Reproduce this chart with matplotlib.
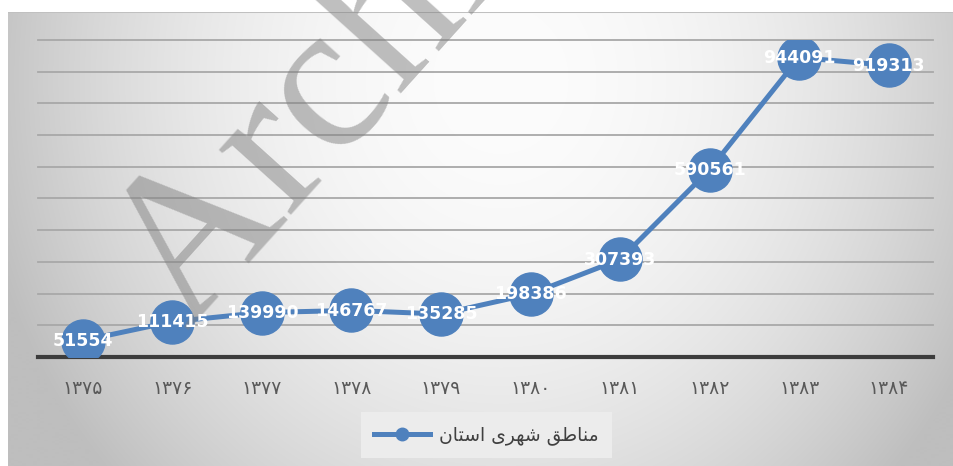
import numpy as np
import matplotlib

matplotlib.use("Agg")
import matplotlib.pyplot as plt
from matplotlib.lines import Line2D

# data
years = ["۱۳۷۵", "۱۳۷۶", "۱۳۷۷", "۱۳۷۸", "۱۳۷۹", "۱۳۸۰", "۱۳۸۱", "۱۳۸۲", "۱۳۸۳", "۱۳۸۴"]
values = [51554, 111415, 139990, 146767, 135285, 198386, 307393, 590561, 944091, 919313]
series_name = "مناطق شهری استان"
watermark = "Archive"

BLUE = "#4f81bd"
W, H = 953, 466

# isolated, final, initial, medial presentation forms
FORMS = {
    "ا": ("\ufe8d", "\ufe8e", None, None),
    "ت": ("\ufe95", "\ufe96", "\ufe97", "\ufe98"),
    "ر": ("\ufead", "\ufeae", None, None),
    "س": ("\ufeb1", "\ufeb2", "\ufeb3", "\ufeb4"),
    "ش": ("\ufeb5", "\ufeb6", "\ufeb7", "\ufeb8"),
    "ط": ("\ufec1", "\ufec2", "\ufec3", "\ufec4"),
    "ق": ("\ufed5", "\ufed6", "\ufed7", "\ufed8"),
    "م": ("\ufee1", "\ufee2", "\ufee3", "\ufee4"),
    "ن": ("\ufee5", "\ufee6", "\ufee7", "\ufee8"),
    "ه": ("\ufee9", "\ufeea", "\ufeeb", "\ufeec"),
    "ی": ("\ufeef", "\ufef0", "\ufef3", "\ufef4"),
}


def shape_rtl(text):
    """Join Persian letters and reverse to visual order (matplotlib has no bidi)."""
    out = []
    for i, ch in enumerate(text):
        if ch not in FORMS:
            out.append(ch)
            continue
        prev = text[i - 1] if i > 0 else ""
        nxt = text[i + 1] if i + 1 < len(text) else ""
        join_prev = prev in FORMS and FORMS[prev][2] is not None
        join_next = nxt in FORMS and FORMS[ch][2] is not None
        iso, fin, ini, med = FORMS[ch]
        if join_prev and join_next:
            out.append(med)
        elif join_prev:
            out.append(fin)
        elif join_next:
            out.append(ini)
        else:
            out.append(iso)
    return "".join(out)[::-1]


fig = plt.figure(figsize=((W + 0.5) / 100, (H + 0.2) / 100), dpi=100)

# background: soft radial grey gradient inside a white margin
yy, xx = np.mgrid[0:H, 0:W]
d2 = ((xx - 500) / 500.0) ** 2 + ((yy - 80) / 550.0) ** 2
bg = np.clip(252 - 55 * d2, 190, 255) / 255.0
bg[:13, :] = 1.0
bg[:, :8] = 1.0
bg[13, 8:] = 0.75
bg_ax = fig.add_axes([0, 0, 1, 1], zorder=-5)
bg_ax.imshow(np.dstack([bg] * 3), aspect="auto", interpolation="bilinear")
bg_ax.axis("off")

ax = fig.add_axes([38 / W, 1 - 357 / H, (933 - 38) / W, (357 - 40) / H])
ax.set_facecolor("none")
x = np.arange(len(years))
ax.plot(x, values, color=BLUE, lw=3.6, marker="o", markersize=31,
        markerfacecolor=BLUE, markeredgecolor=BLUE, solid_capstyle="round", zorder=3)
for xi, v in zip(x, values):
    ax.text(xi, v, str(v), ha="center", va="center", color="white",
            fontsize=12.5, fontweight="bold", family="DejaVu Sans", zorder=5)

ax.set_xlim(-0.5, len(years) - 0.5)
ax.set_ylim(0, 1_000_000)
ax.set_yticks(np.arange(100_000, 1_000_001, 100_000))
ax.yaxis.grid(True, color="#a8a8a8", lw=1.3)
ax.set_axisbelow(True)
for g in ax.get_ygridlines():
    g.set_clip_on(False)
ax.tick_params(axis="y", left=False, labelleft=False)
ax.set_xticks(x)
ax.set_xticklabels(years, fontsize=13.5, color="#595959", family="DejaVu Sans")
ax.tick_params(axis="x", length=0, pad=16)
for side in ("left", "right", "top", "bottom"):
    ax.spines[side].set_visible(False)
ax.axhline(0, color="#3c3c3c", lw=3, clip_on=False, zorder=2)

proxy = Line2D([], [], color=BLUE, lw=3.6, marker="o", markersize=9,
               markerfacecolor=BLUE, markeredgecolor=BLUE)
leg = ax.legend([proxy], [shape_rtl(series_name)], loc="center",
                bbox_to_anchor=(486 / W, 1 - 435 / H), bbox_transform=fig.transFigure,
                frameon=True, fancybox=False, facecolor="#ececec", edgecolor="none",
                framealpha=1, prop={"family": "DejaVu Sans", "size": 13.5},
                handlelength=3.0, handletextpad=0.5, borderpad=0.7, borderaxespad=0)
for t in leg.get_texts():
    t.set_color("#404040")

# watermark sits over the markers but under the value labels
ax.text(186 / W, 1 - 330 / H, watermark, transform=fig.transFigure, clip_on=False,
        rotation=48, rotation_mode="anchor", ha="left", va="baseline",
        fontsize=152, family="Liberation Serif", color="#808080", alpha=0.5, zorder=4)

fig.savefig("out.png", dpi=100)
